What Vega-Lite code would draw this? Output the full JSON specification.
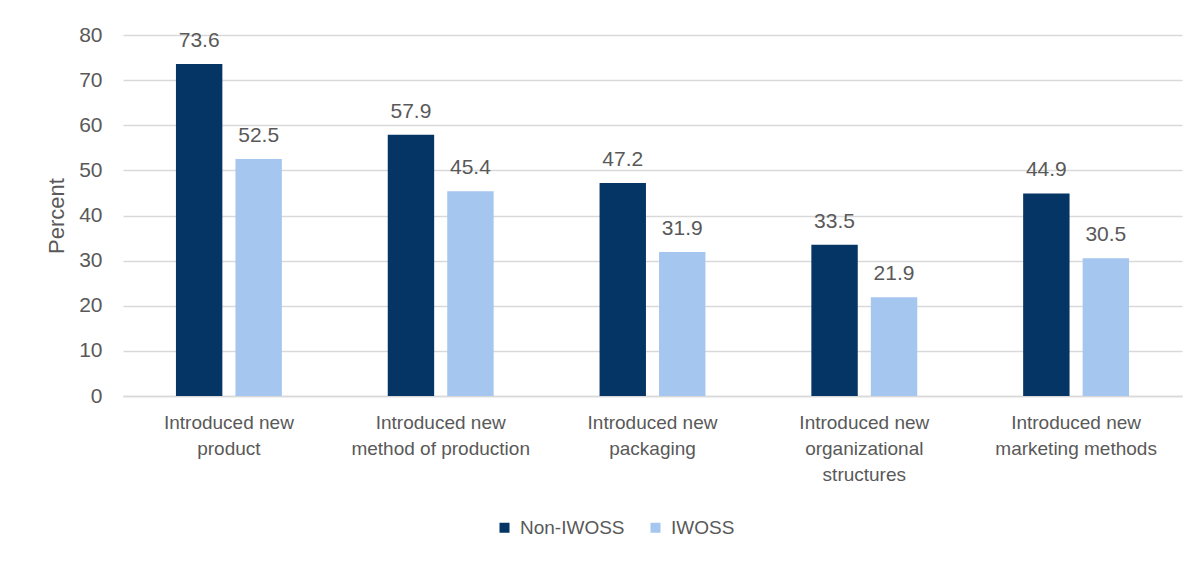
{
  "$schema": "https://vega.github.io/schema/vega-lite/v6.json",
  "description": "Share of firms introducing innovations, Non-IWOSS vs IWOSS",
  "autosize": {"type": "none"},
  "padding": {"left": 123, "top": 35, "right": 20, "bottom": 165},
  "width": 1059,
  "height": 361,
  "background": "#ffffff",
  "data": {
    "values": [
      {"activity": "Introduced new product", "group": "Non-IWOSS", "percent": 73.6},
      {"activity": "Introduced new product", "group": "IWOSS", "percent": 52.5},
      {"activity": "Introduced new method of production", "group": "Non-IWOSS", "percent": 57.9},
      {"activity": "Introduced new method of production", "group": "IWOSS", "percent": 45.4},
      {"activity": "Introduced new packaging", "group": "Non-IWOSS", "percent": 47.2},
      {"activity": "Introduced new packaging", "group": "IWOSS", "percent": 31.9},
      {"activity": "Introduced new organizational structures", "group": "Non-IWOSS", "percent": 33.5},
      {"activity": "Introduced new organizational structures", "group": "IWOSS", "percent": 21.9},
      {"activity": "Introduced new marketing methods", "group": "Non-IWOSS", "percent": 44.9},
      {"activity": "Introduced new marketing methods", "group": "IWOSS", "percent": 30.5}
    ]
  },
  "encoding": {
    "x": {
      "field": "activity",
      "type": "nominal",
      "sort": null,
      "scale": {"paddingInner": 0.5, "paddingOuter": 0.25},
      "axis": {
        "title": null,
        "labelAngle": 0,
        "ticks": false,
        "domainColor": "#d9d9d9",
        "domainWidth": 1.5,
        "labelPadding": 17,
        "labelFontSize": 19,
        "labelLineHeight": 26,
        "labelBaseline": "top",
        "labelExpr": "datum.value == 'Introduced new organizational structures' ? ['Introduced new', 'organizational', 'structures'] : ['Introduced new', replace(datum.value, 'Introduced new ', '')]"
      }
    },
    "xOffset": {
      "field": "group",
      "type": "nominal",
      "sort": ["Non-IWOSS", "IWOSS"],
      "scale": {"paddingInner": 0.22, "paddingOuter": 0}
    },
    "y": {
      "field": "percent",
      "type": "quantitative",
      "scale": {"domain": [0, 80]},
      "axis": {
        "title": "Percent",
        "values": [0, 10, 20, 30, 40, 50, 60, 70, 80],
        "domain": false,
        "ticks": false,
        "gridColor": "#d9d9d9",
        "gridWidth": 1.5,
        "labelFontSize": 21,
        "labelPadding": 21,
        "titleFontSize": 22,
        "titlePadding": 10
      }
    }
  },
  "layer": [
    {
      "mark": {"type": "bar"},
      "encoding": {
        "color": {
          "field": "group",
          "type": "nominal",
          "sort": ["Non-IWOSS", "IWOSS"],
          "scale": {"domain": ["Non-IWOSS", "IWOSS"], "range": ["#053564", "#a4c6ef"]},
          "legend": {
            "title": null,
            "orient": "none",
            "direction": "horizontal",
            "legendX": 372,
            "legendY": 483,
            "symbolType": "square",
            "symbolSize": 100,
            "symbolStrokeWidth": 0,
            "labelOffset": 6,
            "columnPadding": 21
          }
        }
      }
    },
    {
      "mark": {"type": "text", "baseline": "alphabetic", "dy": -17, "fontSize": 21},
      "encoding": {
        "text": {"field": "percent", "type": "quantitative", "format": ".1f"}
      }
    }
  ],
  "config": {
    "font": "Liberation Sans",
    "view": {"stroke": null},
    "text": {"color": "#595959"},
    "axis": {
      "labelFont": "Liberation Sans",
      "labelColor": "#595959",
      "titleFont": "Liberation Sans",
      "titleFontWeight": "normal",
      "titleColor": "#595959"
    },
    "legend": {
      "labelFont": "Liberation Sans",
      "labelFontSize": 19,
      "labelColor": "#595959"
    }
  }
}
